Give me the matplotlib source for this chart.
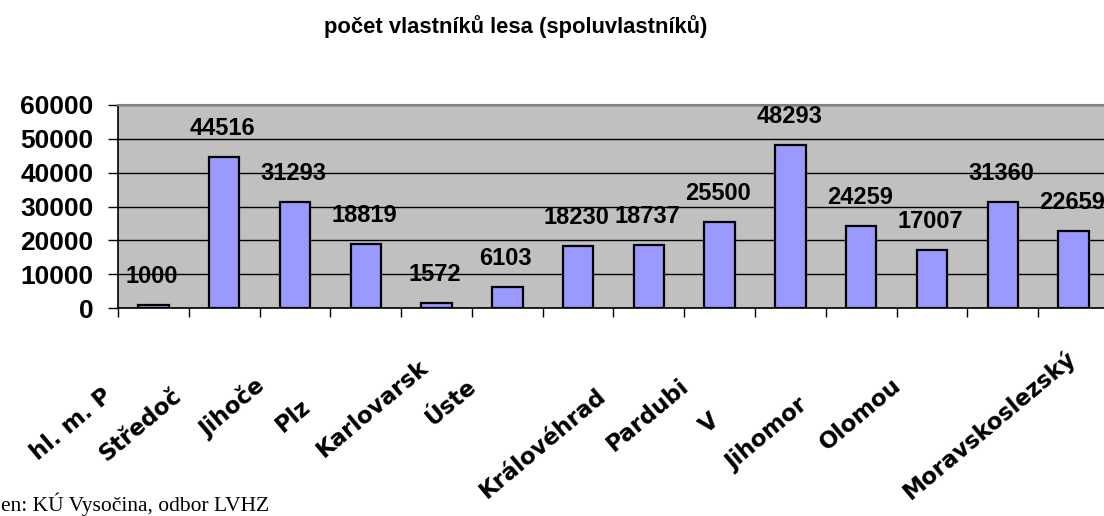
import numpy as np
import matplotlib
matplotlib.use("Agg")
import matplotlib.pyplot as plt
from matplotlib import transforms
from matplotlib.font_manager import FontProperties

# Forest owners (incl. co-owners) by region
regions = ["hl. m. Praha", "Středočeský", "Jihočeský", "Plzeňský", "Karlovarský",
           "Ústecký", "Liberecký", "Královéhradecký", "Pardubický", "Vysočina",
           "Jihomoravský", "Olomoucký", "Zlínský", "Moravskoslezský"]
owners = [1000, 44516, 31293, 18819, 1572, 6103, 18230, 18737, 25500, 48293,
          24259, 17007, 31360, 22659]
# category names as they show up (cut short) under the axis
shown_labels = ["hl. m. P", "Středoč", "Jihoče", "Plz", "Karlovarsk", "Úste", "",
                "Královéhrad", "Pardubi", "V", "Jihomor", "Olomou", "",
                "Moravskoslezský"]
y_ticks = [0, 10000, 20000, 30000, 40000, 50000, 60000]
title = "počet vlastníků lesa (spoluvlastníků)"
source = "en: KÚ Vysočina, odbor LVHZ"

W, H, DPI = 1104, 516, 100
fig = plt.figure(figsize=(W / DPI, H / DPI), dpi=DPI)
fig.patch.set_facecolor("white")

# plot area runs slightly past the right edge of the canvas
ax = fig.add_axes([118 / W, (H - 308) / H, 991 / W, 203 / H])
ax.set_facecolor("#C0C0C0")

x = np.arange(len(regions))
ax.bar(x, owners, width=0.43, color="#9999FF", edgecolor="black",
       linewidth=1.6, zorder=3)

ax.set_xlim(-0.5, len(regions) - 0.5)
ax.set_ylim(0, 60000)
ax.set_yticks(y_ticks)
ax.set_yticklabels([str(v) for v in y_ticks], fontsize=19,
                   fontweight="bold", family="Liberation Sans")
ax.yaxis.grid(True, color="black", linewidth=1.0)
ax.set_axisbelow(True)

# category separators on the x axis
ax.set_xticks(np.arange(-0.5, len(regions) - 0.5, 1.0))
ax.tick_params(axis="x", direction="out", length=6.5, width=1.0,
               labelbottom=False, color="black")
ax.tick_params(axis="y", direction="out", length=7.2, width=1.0, pad=10.5,
               color="black")

for side in ("left", "bottom"):
    ax.spines[side].set_color("black")
    ax.spines[side].set_linewidth(1.2)
for side in ("top", "right"):
    ax.spines[side].set_color("#808080")
    ax.spines[side].set_linewidth(1.5)

# value labels above the bars
for xi, v in zip(x, owners):
    ax.annotate(f"{v}", (xi, v), xytext=(-1, 20.5), textcoords="offset points",
                ha="center", va="center", fontsize=17, fontweight="bold",
                family="Liberation Sans", annotation_clip=False)

# slanted category names: each starts where its full name would start
fig.canvas.draw()
renderer = fig.canvas.get_renderer()
lab_font = FontProperties(family="DejaVu Sans", weight="bold", size=16.5)
angle = 40
theta = np.deg2rad(angle)
for xi, full, shown in zip(x, regions, shown_labels):
    if not shown:
        continue
    w, h, d = renderer.get_text_width_height_descent(full, lab_font, ismath=False)
    tf = transforms.offset_copy(ax.get_xaxis_transform(), fig=fig,
                                x=-w * np.cos(theta),
                                y=-47 - w * np.sin(theta), units="dots")
    ax.text(xi, 0, shown, transform=tf, rotation=angle, rotation_mode="anchor",
            ha="left", va="center", fontproperties=lab_font, clip_on=False)

fig.text(516 / W, 1 - 27 / H, title, ha="center", va="center", fontsize=15.8,
         fontweight="bold", family="Liberation Sans")
fig.text(1 / W, 5 / H, source, ha="left", va="baseline", fontsize=15.5,
         family="Liberation Serif")

fig.savefig("out.png", dpi=DPI)
